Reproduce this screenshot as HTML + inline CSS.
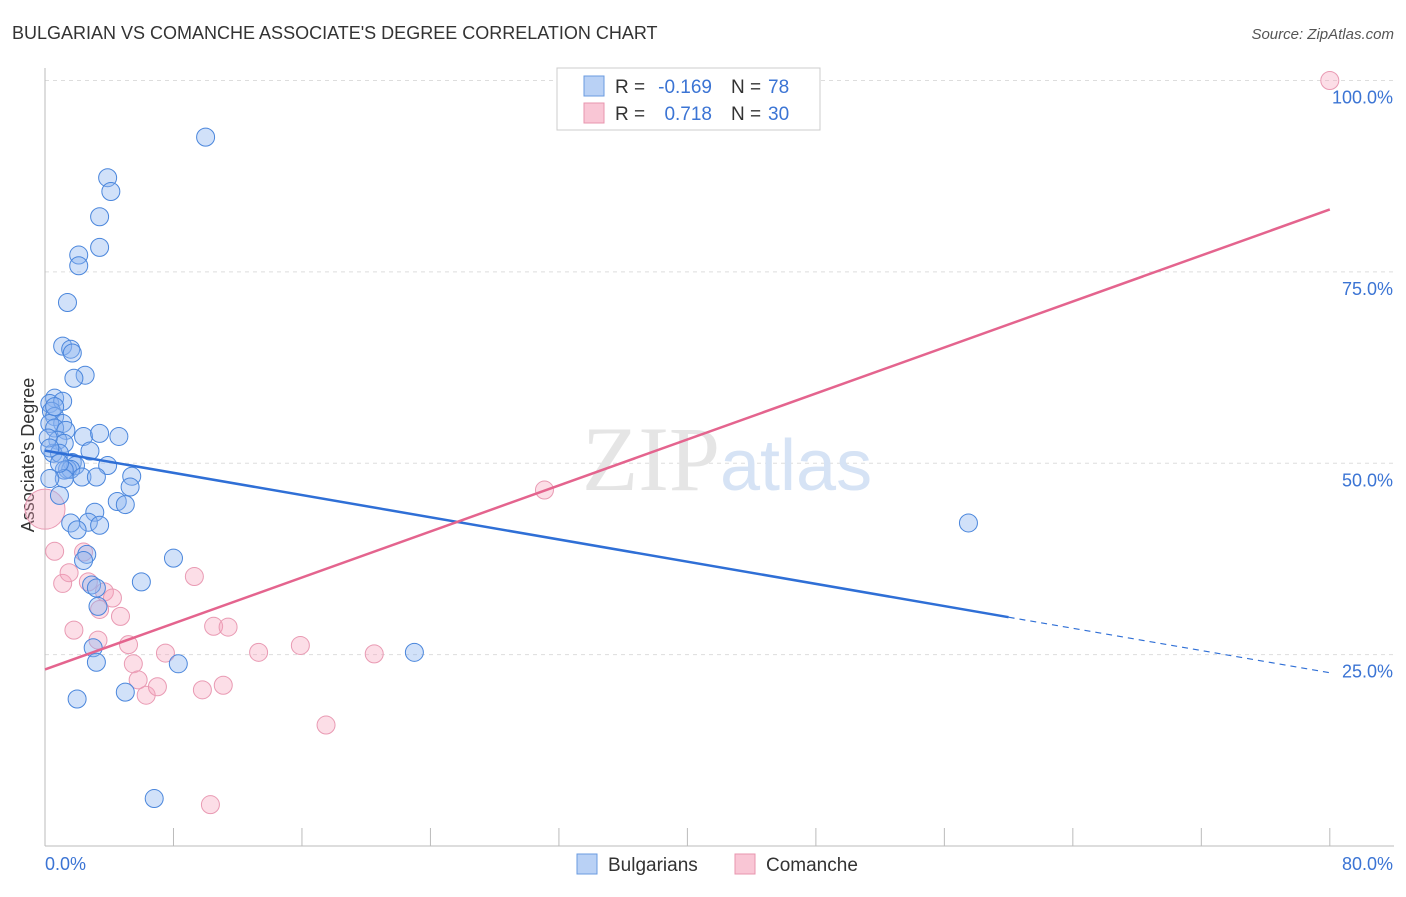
<!DOCTYPE html>
<html><head><meta charset="utf-8"><style>
body{margin:0;background:#fff;font-family:"Liberation Sans",sans-serif}
</style></head><body>
<svg width="1406" height="892" xmlns="http://www.w3.org/2000/svg" font-family="Liberation Sans, sans-serif">
<text x="12" y="39" font-size="18" fill="#333">BULGARIAN VS COMANCHE ASSOCIATE'S DEGREE CORRELATION CHART</text>
<text x="1394" y="39" font-size="15" fill="#555" text-anchor="end" font-style="italic">Source: ZipAtlas.com</text>
<g id="grid"></g>
<line x1="45" y1="68" x2="45" y2="846" stroke="#bbb"/>
<line x1="45" y1="846" x2="1394" y2="846" stroke="#bbb"/>
<g id="xticks"></g>
<g id="ylabels"></g>
<text x="45" y="870" font-size="18" fill="#3b74d4">0.0%</text>
<text x="1393" y="870" font-size="18" fill="#3b74d4" text-anchor="end">80.0%</text>
<text transform="translate(34,455) rotate(-90)" font-size="18" fill="#333" text-anchor="middle">Associate's Degree</text>
<text x="720" y="490" font-size="92" fill="#e5e5e5" font-family="Liberation Serif, serif" text-anchor="end">ZIP</text>
<text x="720" y="490" font-size="72" fill="#d6e3f5">atlas</text>
<g id="pts"></g>
<g id="lines"></g>
<g>
<rect x="557" y="68" width="263" height="62" fill="#fff" stroke="#ccc"/>
<rect x="584" y="76" width="20" height="20" fill="#b9d1f5" stroke="#6a9be0"/>
<rect x="584" y="103" width="20" height="20" fill="#f9c6d5" stroke="#e895ae"/>
<text x="615" y="93" font-size="19" fill="#333">R =</text>
<text x="712" y="93" font-size="19" fill="#3b74d4" text-anchor="end">-0.169</text>
<text x="731" y="93" font-size="19" fill="#333">N =</text>
<text x="768" y="93" font-size="19" fill="#3b74d4">78</text>
<text x="615" y="120" font-size="19" fill="#333">R =</text>
<text x="712" y="120" font-size="19" fill="#3b74d4" text-anchor="end">0.718</text>
<text x="731" y="120" font-size="19" fill="#333">N =</text>
<text x="768" y="120" font-size="19" fill="#3b74d4">30</text>
</g>
<g>
<rect x="577" y="854" width="20" height="20" fill="#b9d1f5" stroke="#6a9be0"/>
<text x="608" y="871" font-size="19" fill="#333">Bulgarians</text>
<rect x="735" y="854" width="20" height="20" fill="#f9c6d5" stroke="#e895ae"/>
<text x="766" y="871" font-size="19" fill="#333">Comanche</text>
</g>
</svg>
<script>
const yTicks=[25,50,75,100];
const yTickLabels=["25.0%","50.0%","75.0%","100.0%"];
const blueX=[10.0,3.9,4.1,3.4,3.4,2.1,2.1,1.4,1.1,1.6,1.7,2.5,1.8,0.6,0.3,1.1,0.4,0.6,1.1,0.3,0.6,1.3,2.4,3.4,4.6,0.8,1.2,2.8,0.5,0.9,1.7,1.9,3.9,1.4,1.6,1.2,2.3,3.2,5.4,1.2,5.3,0.9,4.5,5.0,3.1,2.7,1.6,3.4,2.0,2.6,2.4,8.0,2.9,3.2,6.0,3.3,3.0,3.2,8.3,5.0,2.0,6.8,23.0,57.5,0.3,0.9,0.2,0.3,0.6];
const blueY=[92.6,87.3,85.5,82.2,78.2,77.2,75.8,71.0,65.3,64.9,64.4,61.5,61.1,58.5,57.8,58.1,56.8,56.1,55.2,55.2,54.6,54.3,53.5,53.9,53.5,53.0,52.6,51.6,51.3,51.3,50.1,49.7,49.7,49.2,49.2,49.1,48.2,48.2,48.3,48.0,46.9,45.8,45.0,44.6,43.6,42.3,42.2,41.9,41.3,38.1,37.3,37.6,34.1,33.7,34.5,31.3,25.9,24.0,23.8,20.1,19.2,6.2,25.3,42.2,48.0,50.0,53.3,52.0,57.4];
const pinkX=[0.0,0.6,1.1,1.5,1.8,2.4,2.7,3.3,3.4,3.7,4.2,4.7,5.2,5.5,5.8,6.3,7.0,7.5,9.3,9.8,10.5,11.1,11.4,13.3,15.9,17.5,20.5,10.3,31.1,80.0];
const pinkY=[44.0,38.5,34.3,35.7,28.2,38.4,34.5,26.9,30.9,33.2,32.4,30.0,26.3,23.8,21.7,19.7,20.8,25.2,35.2,20.4,28.7,21.0,28.6,25.3,26.2,15.8,25.1,5.4,46.5,100.0];
const X=v=>45+v*16.06, Y=v=>846-v*7.655;
const ns="http://www.w3.org/2000/svg";
function mk(t,a,p){const e=document.createElementNS(ns,t);for(const k in a)e.setAttribute(k,a[k]);p.appendChild(e);return e;}
const grid=document.getElementById('grid'),yl=document.getElementById('ylabels'),xt=document.getElementById('xticks');
mk('line',{x1:45,y1:Y(100),x2:1394,y2:Y(100),stroke:'#ddd','stroke-dasharray':'4,4'},grid);
yTicks.forEach((t,i)=>{const l=mk('line',{x1:45,y1:Y(t),x2:1394,y2:Y(t),stroke:'#ddd','stroke-dasharray':'4,4'},grid);


const tx=mk('text',{x:1393,y:Y(t)+23,'font-size':18,fill:'#3b74d4','text-anchor':'end'},yl);tx.textContent=yTickLabels[i];

});
for(let i=1;i<=10;i++){const l=mk('line',{x1:X(i*8),y1:828,x2:X(i*8),y2:846,stroke:'#bbb'},xt);

}
const pts=document.getElementById('pts');
pinkX.forEach((x,i)=>{const c=mk('circle',{cx:X(x),cy:Y(pinkY[i]),r:i==0?20:9,fill:'rgba(245,160,185,0.35)',stroke:'#e99ab3','stroke-width':1},pts);

});
blueX.forEach((x,i)=>{const c=mk('circle',{cx:X(x),cy:Y(blueY[i]),r:9,fill:'rgba(140,180,240,0.4)',stroke:'#4a86dc','stroke-width':1},pts);

});
function fit(xs,ys){const n=xs.length,mx=xs.reduce((a,b)=>a+b)/n,my=ys.reduce((a,b)=>a+b)/n;let sxy=0,sxx=0;xs.forEach((x,i)=>{sxy+=(x-mx)*(ys[i]-my);sxx+=(x-mx)**2});const b=sxy/sxx;return [my-b*mx,b];}
const lg=document.getElementById('lines');
const [ba,bb]=fit(blueX,blueY);const [pa,pb]=fit(pinkX,pinkY);
let l=mk('line',{x1:X(0),y1:Y(ba),x2:X(60),y2:Y(ba+bb*60),stroke:'#2f6fd6','stroke-width':2.5},lg);


l=mk('line',{x1:X(60),y1:Y(ba+bb*60),x2:X(80),y2:Y(ba+bb*80),stroke:'#2f6fd6','stroke-width':1.2,'stroke-dasharray':'6,5'},lg);


l=mk('line',{x1:X(0),y1:Y(pa),x2:X(80),y2:Y(pa+pb*80),stroke:'#e4648e','stroke-width':2.5},lg);


</script>
</body></html>
